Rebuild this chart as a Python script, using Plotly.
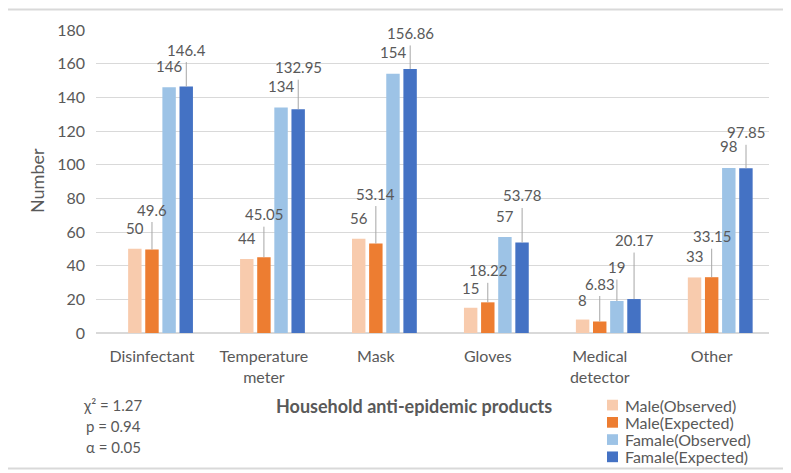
import plotly.graph_objects as go

# data
categories = ["Disinfectant", "Temperature<br>meter", "Mask", "Gloves", "Medical<br>detector", "Other"]
male_obs = [50, 44, 56, 15, 8, 33]
male_exp = [49.6, 45.05, 53.14, 18.22, 6.83, 33.15]
female_obs = [146, 134, 154, 57, 19, 98]
female_exp = [146.4, 132.95, 156.86, 53.78, 20.17, 97.85]
series_names = ["Male(Observed)", "Male(Expected)", "Famale(Observed)", "Famale(Expected)"]
stats_lines = ["χ² = 1.27", "p = 0.94", "α = 0.05"]

# styling / label placement (pixels above bar top to label centre)
colors = ["#F8CBAD", "#ED7D31", "#9DC3E6", "#4472C4"]
label_lift = [
    [21, 21, 21, 20, 20, 21],
    [40, 43, 50, 32, 38, 41],
    [21, 21, 22, 21, 34, 22],
    [37, 42, 36, 47, 59, 36],
]
leader = [
    [False] * 6,
    [True] * 6,
    [False, False, False, False, True, False],
    [True] * 6,
]

# page has an 8px body margin, so the figure is shifted; work in window pixels
OFF = 8
W, H = 791 - OFF, 473 - OFF
X0, X1, Y0, Y1 = 96, 769, 22, 333          # plot area in window pixels
L, T = X0 - OFF, Y0 - OFF
R, B = W - (X1 - OFF), H - (Y1 - OFF)
PW, PH = X1 - X0, Y1 - Y0
bar_w = 0.12
centres = [-0.153, 0.0, 0.153, 0.306]
cat_px = PW / 6

txt = "#595959"
font = "Lato, 'Open Sans', sans-serif"


def px(x):
    return (x - X0) / PW


def py(y):
    return (Y1 - y) / PH


fig = go.Figure()
all_series = [male_obs, male_exp, female_obs, female_exp]
for i, vals in enumerate(all_series):
    fig.add_trace(go.Bar(
        x=categories, y=vals, name=series_names[i],
        marker=dict(color=colors[i], line=dict(width=0)),
        width=bar_w, offset=centres[i] - bar_w / 2, showlegend=False,
    ))
    for j, v in enumerate(vals):
        fig.add_annotation(
            x=categories[j], y=v, xref="x", yref="y",
            xshift=centres[i] * cat_px,
            text=f"{v:g}",
            showarrow=leader[i][j],
            ax=0, ay=-label_lift[i][j],
            arrowhead=0, arrowwidth=1, arrowcolor="#A6A6A6",
            borderpad=3,
            yshift=0 if leader[i][j] else label_lift[i][j],
            font=dict(size=15, color=txt, family=font),
        )

fig.add_annotation(x=px(414), y=py(408), xref="paper", yref="paper",
                   xanchor="center", yanchor="middle",
                   text="<b>Household anti-epidemic products</b>", showarrow=False,
                   font=dict(size=18, color=txt, family=font))
fig.add_annotation(x=px(37), y=py(177), xref="paper", yref="paper",
                   xanchor="center", yanchor="middle",
                   text="Number", textangle=-90, showarrow=False,
                   font=dict(size=18, color=txt, family=font))
for k, s in enumerate(stats_lines):
    fig.add_annotation(x=px(113), y=py(407 + 21.5 * k),
                       xref="paper", yref="paper", xanchor="center", yanchor="middle",
                       text=s, showarrow=False,
                       font=dict(size=15, color=txt, family=font))

# hand-drawn legend (Excel style, tight rows)
for k, name in enumerate(series_names):
    yc = 407 + 17.7 * k
    fig.add_shape(type="rect", xref="paper", yref="paper",
                  x0=px(607), x1=px(618), y0=py(yc + 5.5), y1=py(yc - 5.5),
                  fillcolor=colors[k], line=dict(width=0))
    fig.add_annotation(x=px(623), y=py(yc), xref="paper", yref="paper",
                       text=name, showarrow=False, xanchor="left", yanchor="middle",
                       font=dict(size=16, color=txt, family=font))

fig.add_shape(type="rect", xref="paper", yref="paper",
              x0=px(1), x1=px(790), y0=py(472), y1=py(1),
              line=dict(color="#D9D9D9", width=2), fillcolor="rgba(0,0,0,0)", layer="below")

fig.update_layout(
    width=W, height=H,
    margin=dict(l=L, r=R, t=T, b=B),
    paper_bgcolor="white", plot_bgcolor="white",
    barmode="overlay",
    font=dict(family=font, color=txt, size=16),
    xaxis=dict(showgrid=False, tickfont=dict(size=16, color=txt), ticks="",
               showline=False, ticklabelstandoff=12),
    yaxis=dict(range=[0, 180], dtick=20, showgrid=True, gridcolor="#D9D9D9", gridwidth=1.3,
               zeroline=True, zerolinecolor="#D9D9D9", zerolinewidth=1.5,
               tickfont=dict(size=16, color=txt), ticklabelstandoff=10),
    showlegend=False,
)

fig.write_html("out.html")
